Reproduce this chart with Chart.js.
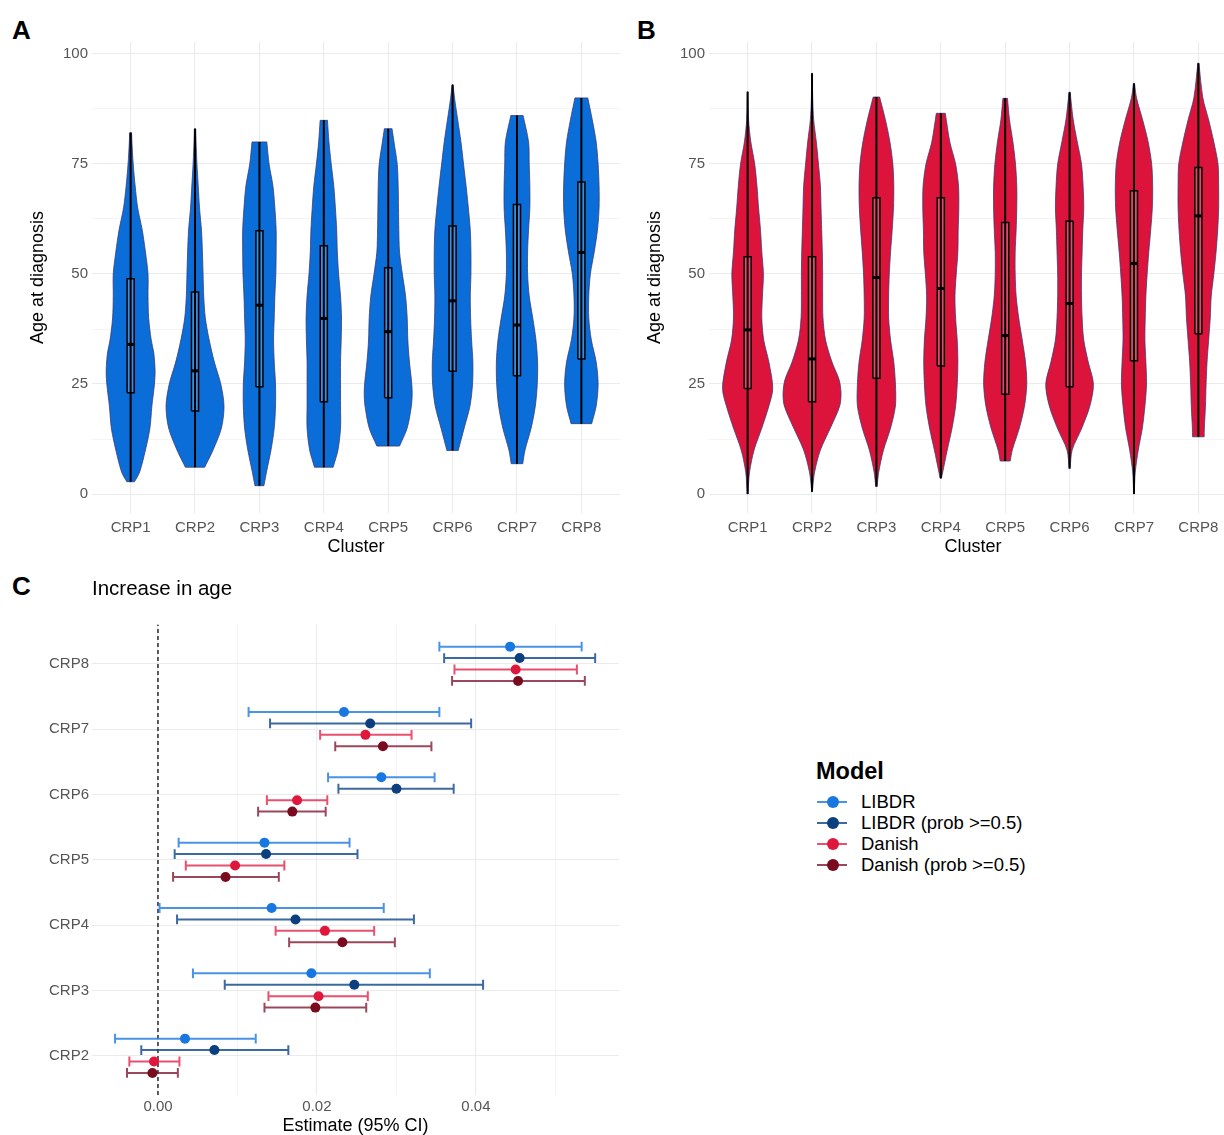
<!DOCTYPE html>
<html>
<head>
<meta charset="utf-8">
<script src="https://cdn.jsdelivr.net/npm/chart.js@4.4.0/dist/chart.umd.min.js"></script>
<style>
  html, body { margin: 0; padding: 0; background: #fff; overflow: hidden; }
  body { width: 1224px; height: 1135px; position: relative; font-family: "Liberation Sans", Arial, Helvetica, sans-serif; }
  .panel { position: absolute; }
  .tag { position: absolute; font-weight: bold; font-size: 26px; line-height: 1; color: #000; }
  #legend { position: absolute; left: 816px; top: 760px; color: #000; }
  #legend .lg-title { font-weight: bold; font-size: 23.5px; line-height: 1; height: 31px; }
  #legend .lg-row { position: relative; height: 21px; line-height: 21px; font-size: 18.5px; padding-left: 45px; white-space: nowrap; }
  #legend .lg-line { position: absolute; left: 1px; top: 10px; width: 30px; height: 2px; }
  #legend .lg-dot { position: absolute; left: 10.5px; top: 5px; width: 12px; height: 12px; border-radius: 50%; }
</style>
</head>
<body>
<div class="tag" style="left:12px;top:17px">A</div>
<div class="tag" style="left:637px;top:17px">B</div>
<div class="tag" style="left:12px;top:573px">C</div>
<div class="panel" style="left:0;top:0;width:620px;height:560px"><canvas id="chartA"></canvas></div>
<div class="panel" style="left:617px;top:0;width:620px;height:560px"><canvas id="chartB"></canvas></div>
<div class="panel" style="left:0;top:565px;width:640px;height:570px"><canvas id="chartC"></canvas></div>
<div id="legend"></div>

<script>
// ---- panels A / B : age at diagnosis per cluster ----
const clusters = ['CRP1', 'CRP2', 'CRP3', 'CRP4', 'CRP5', 'CRP6', 'CRP7', 'CRP8'];
const ageTicks = [0, 12.5, 25, 37.5, 50, 62.5, 75, 87.5, 100];

// violin half widths (fraction of a category) at given ages, [age, width]
const densA = [
  [[2.8,.06],[5,.14],[10,.23],[15,.30],[20,.33],[25,.37],[28,.38],[32,.36],[35,.32],[40,.28],[45,.27],[50,.27],[55,.23],[60,.18],[65,.11],[70,.07],[75,.04],[80,.02],[82.1,.015]],
  [[6.1,.15],[10,.28],[15,.41],[20,.45],[25,.40],[30,.30],[35,.22],[40,.16],[45,.135],[50,.125],[55,.115],[60,.10],[65,.07],[70,.05],[75,.03],[80,.016],[83,.01]],
  [[1.9,.07],[5,.11],[10,.18],[15,.23],[20,.25],[25,.25],[30,.23],[35,.22],[40,.23],[45,.24],[50,.255],[55,.26],[60,.26],[65,.24],[70,.21],[75,.15],[80,.115]],
  [[6.1,.145],[10,.22],[15,.26],[20,.26],[25,.26],[30,.26],[35,.27],[40,.275],[45,.26],[50,.23],[55,.21],[60,.20],[65,.18],[70,.155],[75,.115],[80,.08],[84.9,.057]],
  [[10.9,.176],[15,.295],[20,.36],[23,.373],[26,.36],[30,.33],[35,.305],[40,.295],[45,.27],[50,.22],[55,.176],[60,.165],[65,.16],[70,.155],[75,.14],[80,.09],[83,.06]],
  [[9.9,.088],[15,.18],[20,.27],[25,.31],[30,.315],[35,.295],[40,.28],[45,.275],[50,.285],[55,.285],[60,.275],[65,.245],[70,.21],[75,.17],[80,.13],[85,.08],[90,.03],[93,.008]],
  [[6.9,.09],[10,.125],[15,.22],[20,.285],[25,.315],[30,.32],[35,.295],[40,.245],[45,.19],[50,.165],[55,.165],[60,.18],[65,.20],[70,.20],[75,.19],[80,.18],[86,.095]],
  [[16,.16],[20,.23],[25,.26],[30,.23],[35,.155],[40,.115],[45,.115],[50,.14],[55,.20],[60,.25],[65,.275],[70,.275],[75,.26],[80,.23],[85,.17],[90,.10]]
];
const minA = [2.8, 6.1, 1.9, 6.1, 10.9, 9.9, 6.9, 16.0];
const q1A  = [23.0, 18.9, 24.4, 21.0, 21.9, 27.9, 26.9, 30.7];
const medA = [34.0, 28.0, 42.9, 39.9, 36.9, 43.9, 38.4, 54.9];
const q3A  = [48.9, 45.9, 59.8, 56.4, 51.4, 60.9, 65.8, 70.9];
const maxA = [82.1, 83.0, 80.0, 84.9, 83.0, 93.0, 86.0, 90.0];

const densB = [
  [[0,.005],[5,.03],[10,.10],[15,.22],[20,.33],[24,.39],[30,.33],[35,.25],[40,.22],[45,.23],[50,.245],[55,.22],[60,.20],[65,.17],[70,.145],[75,.11],[80,.05],[85,.015],[91.4,.004]],
  [[0.5,.004],[5,.04],[10,.13],[15,.285],[20,.43],[23,.45],[26,.42],[30,.31],[35,.21],[40,.17],[45,.165],[50,.165],[55,.16],[60,.15],[65,.14],[70,.13],[75,.10],[80,.067],[85,.026],[90,.01],[95.6,.004]],
  [[1.7,.01],[5,.036],[10,.11],[15,.22],[20,.295],[25,.295],[30,.27],[35,.22],[40,.19],[45,.19],[50,.20],[55,.22],[60,.245],[65,.265],[70,.27],[75,.255],[80,.21],[85,.14],[90.2,.05]],
  [[3.6,.01],[5,.03],[10,.10],[15,.175],[20,.23],[25,.255],[30,.265],[35,.255],[40,.23],[45,.22],[50,.24],[55,.265],[60,.27],[65,.28],[70,.275],[75,.23],[80,.14],[86.5,.07]],
  [[7.5,.078],[10,.11],[15,.22],[20,.30],[25,.335],[30,.315],[35,.265],[40,.21],[45,.17],[50,.155],[55,.155],[60,.17],[65,.18],[70,.18],[75,.16],[80,.12],[85,.067],[89.9,.036]],
  [[5.8,.008],[10,.04],[15,.19],[20,.315],[25,.37],[30,.29],[35,.22],[40,.195],[45,.185],[50,.185],[55,.195],[60,.205],[65,.22],[70,.21],[75,.185],[80,.12],[85,.057],[91.3,.008]],
  [[0,.004],[5,.02],[10,.067],[15,.13],[20,.17],[25,.195],[30,.185],[35,.17],[40,.175],[45,.185],[50,.205],[55,.23],[60,.26],[65,.285],[70,.29],[75,.275],[80,.22],[85,.135],[90,.04],[93.3,.008]],
  [[13.0,.09],[15,.093],[20,.11],[25,.12],[30,.135],[35,.16],[40,.185],[45,.20],[50,.24],[55,.275],[60,.30],[65,.315],[70,.315],[75,.305],[80,.24],[85,.16],[90,.07],[97.9,.008]]
];
const minB = [0, 0.5, 1.7, 3.6, 7.5, 5.8, 0, 13.0];
const q1B  = [24.0, 21.0, 26.3, 29.1, 22.7, 24.4, 30.3, 36.4];
const medB = [37.3, 30.7, 49.2, 46.7, 36.0, 43.3, 52.4, 63.2];
const q3B  = [53.9, 53.9, 67.3, 67.3, 61.7, 62.0, 68.9, 74.2];
const maxB = [91.4, 95.6, 90.2, 86.5, 89.9, 91.3, 93.3, 97.9];

// ---- panel C : increase in age, estimate and 95% CI ----
const clustersC = ['CRP2', 'CRP3', 'CRP4', 'CRP5', 'CRP6', 'CRP7', 'CRP8'];
const models = ['LIBDR', 'LIBDR (prob >=0.5)', 'Danish', 'Danish (prob >=0.5)'];
const estLibdr  = [0.0034, 0.0193, 0.0143, 0.0134, 0.0281, 0.0234, 0.0443];
const loLibdr   = [-0.0054, 0.0044, 0.0002, 0.0026, 0.0214, 0.0114, 0.0354];
const hiLibdr   = [0.0123, 0.0342, 0.0284, 0.0241, 0.0348, 0.0354, 0.0533];
const estLibdrP = [0.0071, 0.0247, 0.0173, 0.0136, 0.0300, 0.0267, 0.0455];
const loLibdrP  = [-0.0021, 0.0084, 0.0024, 0.0021, 0.0227, 0.0141, 0.0360];
const hiLibdrP  = [0.0164, 0.0409, 0.0322, 0.0251, 0.0372, 0.0394, 0.0550];
const estDanish = [-0.0005, 0.0202, 0.0210, 0.0097, 0.0175, 0.0261, 0.0450];
const loDanish  = [-0.0036, 0.0139, 0.0148, 0.0035, 0.0137, 0.0204, 0.0373];
const hiDanish  = [0.0027, 0.0264, 0.0272, 0.0159, 0.0213, 0.0319, 0.0527];
const estDanishP = [-0.0007, 0.0198, 0.0232, 0.0085, 0.0169, 0.0283, 0.0453];
const loDanishP  = [-0.0039, 0.0134, 0.0165, 0.0019, 0.0126, 0.0223, 0.0370];
const hiDanishP  = [0.0025, 0.0262, 0.0298, 0.0152, 0.0211, 0.0344, 0.0537];
const estTicks = [0, 0.01, 0.02, 0.03, 0.04, 0.05];

const modelPoint = ['#1877e0', '#0b3f7e', '#e0173d', '#7a0b1f'];
const modelLine  = ['rgba(40,128,225,0.85)', 'rgba(25,80,145,0.85)', 'rgba(228,50,85,0.85)', 'rgba(130,25,50,0.8)'];
const dodge = [0.2625, 0.0875, -0.0875, -0.2625];

Chart.defaults.font.family = '"Liberation Sans", Arial, Helvetica, sans-serif';
const TICK = '#555';
const GRID = '#ebebeb';
const BOX_HALF = 0.055;
const CAP = 0.075;

// repeat a point so the spline keeps a sharp corner there
function corner(p) { return [p, {x: p.x, y: p.y}]; }

function violinDatasets(dens, q1, med, q3, lo, hi, fill, boxFill) {
  const sets = [];
  dens.forEach((knots, i) => {
    const xc = i + 1;
    const left = knots.map(([a, w]) => ({x: xc - w, y: a}));
    const right = knots.map(([a, w]) => ({x: xc + w, y: a})).reverse();
    const n = left.length;
    const outline = [].concat(
      corner(left[0]), left.slice(1, n - 1), corner(left[n - 1]),
      corner(right[0]), right.slice(1, n - 1), corner(right[n - 1]),
      [{x: left[0].x, y: left[0].y}]
    );
    sets.push({data: outline, fill: 'shape', backgroundColor: fill,
      borderColor: 'rgba(55,55,115,0.75)', borderWidth: 1, tension: 0.3, order: 4});
    sets.push({data: [{x: xc - BOX_HALF, y: q1[i]}, {x: xc + BOX_HALF, y: q1[i]},
        {x: xc + BOX_HALF, y: q3[i]}, {x: xc - BOX_HALF, y: q3[i]}, {x: xc - BOX_HALF, y: q1[i]}],
      fill: 'shape', backgroundColor: boxFill, borderColor: '#000', borderWidth: 1.5, tension: 0, order: 3});
    sets.push({data: [{x: xc, y: lo[i]}, {x: xc, y: hi[i]}],
      borderColor: '#000', borderWidth: 2, fill: false, order: 2});
    sets.push({data: [{x: xc - BOX_HALF, y: med[i]}, {x: xc + BOX_HALF, y: med[i]}],
      borderColor: '#000', borderWidth: 3, fill: false, order: 1});
  });
  return sets;
}

function violinChart(id, sets) {
  return new Chart(document.getElementById(id), {
    type: 'line',
    data: {datasets: sets},
    options: {
      responsive: true,
      maintainAspectRatio: false,
      animation: false,
      events: [],
      layout: {padding: {top: 42, right: 0, bottom: 0, left: 0}},
      elements: {point: {radius: 0}},
      plugins: {legend: {display: false}, tooltip: {enabled: false}},
      scales: {
        x: {
          type: 'linear', min: 0.4, max: 8.6,
          afterBuildTicks: (s) => { s.ticks = clusters.map((c, i) => ({value: i + 1})); },
          afterFit: (s) => { s.height = 47; },
          ticks: {callback: (v, i) => clusters[i], color: TICK, font: {size: 15}, padding: 6,
                  autoSkip: false, maxRotation: 0},
          grid: {color: GRID, lineWidth: 1.1, drawTicks: false},
          border: {display: false},
          title: {display: true, text: 'Cluster', color: '#000', font: {size: 18, lineHeight: 1},
                  padding: {top: 0, bottom: 4}}
        },
        y: {
          type: 'linear', min: -4.3, max: 102.7,
          afterBuildTicks: (s) => { s.ticks = ageTicks.map((v) => ({value: v})); },
          afterFit: (s) => { s.width = 92; },
          ticks: {callback: (v) => (v % 25 === 0 ? String(v) : ''), color: TICK,
                  font: {size: 15}, padding: 4},
          grid: {color: GRID, drawTicks: false,
                 lineWidth: (c) => (c.tick && c.tick.value % 25 === 0 ? 1.1 : 0.55)},
          border: {display: false},
          title: {display: true, text: 'Age at diagnosis', color: '#000', font: {size: 18},
                  padding: {top: 27, bottom: 0}}
        }
      }
    }
  });
}

violinChart('chartA', violinDatasets(densA, q1A, medA, q3A, minA, maxA, '#0a6dd8', '#3b8fe3'));
violinChart('chartB', violinDatasets(densB, q1B, medB, q3B, minB, maxB, '#dc143c', '#e4496a'));

// ---- panel C ----
const estimates = [
  [estLibdr, loLibdr, hiLibdr],
  [estLibdrP, loLibdrP, hiLibdrP],
  [estDanish, loDanish, hiDanish],
  [estDanishP, loDanishP, hiDanishP]
];

function errorbarPoints(lo, hi, off) {
  const pts = [];
  lo.forEach((l, k) => {
    const y = k + 1 + off;
    pts.push({x: l, y: y - CAP}, {x: l, y: y + CAP}, {x: null, y: null},
             {x: l, y: y}, {x: hi[k], y: y}, {x: null, y: null},
             {x: hi[k], y: y - CAP}, {x: hi[k], y: y + CAP}, {x: null, y: null});
  });
  return pts;
}

const yMinC = 0.4, yMaxC = 7.6;
const setsC = [{
  data: [{x: 0, y: yMinC}, {x: 0, y: yMaxC}],
  borderColor: '#333', borderWidth: 1.6, borderDash: [4, 3], fill: false, order: 3
}];
estimates.forEach(([est, lo, hi], m) => {
  setsC.push({data: errorbarPoints(lo, hi, dodge[m]), borderColor: modelLine[m],
    borderWidth: 2, fill: false, spanGaps: false, order: 2});
});
estimates.forEach(([est, lo, hi], m) => {
  setsC.push({data: est.map((e, k) => ({x: e, y: k + 1 + dodge[m]})), showLine: false,
    pointRadius: 5, pointBackgroundColor: modelPoint[m], pointBorderWidth: 0, order: 1});
});

new Chart(document.getElementById('chartC'), {
  type: 'line',
  data: {datasets: setsC},
  options: {
    responsive: true,
    maintainAspectRatio: false,
    animation: false,
    events: [],
    layout: {padding: {top: 0, right: 21, bottom: 0, left: 0}},
    elements: {point: {radius: 0}},
    plugins: {
      legend: {display: false},
      tooltip: {enabled: false},
      title: {display: true, text: 'Increase in age', align: 'start', fullSize: false,
              color: '#000', font: {size: 20.5, weight: 'normal'}, padding: {top: 12, bottom: 23}}
    },
    scales: {
      x: {
        type: 'linear', min: -0.0083, max: 0.058,
        afterBuildTicks: (s) => { s.ticks = estTicks.map((v) => ({value: v})); },
        afterFit: (s) => { s.height = 40; },
        ticks: {callback: (v, i) => (i % 2 === 0 ? estTicks[i].toFixed(2) : ''), color: TICK,
                font: {size: 15}, padding: 3, autoSkip: false, maxRotation: 0},
        grid: {color: GRID, drawTicks: false, lineWidth: (c) => (c.index % 2 === 0 ? 1.1 : 0.55)},
        border: {display: false},
        title: {display: true, text: 'Estimate (95% CI)', color: '#000', font: {size: 18, lineHeight: 1},
                padding: {top: 0, bottom: 0}}
      },
      y: {
        type: 'linear', min: yMinC, max: yMaxC,
        afterBuildTicks: (s) => { s.ticks = clustersC.map((c, i) => ({value: i + 1})); },
        afterFit: (s) => { s.width = 92; },
        ticks: {callback: (v, i) => clustersC[i], color: TICK, font: {size: 15}, padding: 3},
        grid: {color: GRID, lineWidth: 1.1, drawTicks: false},
        border: {display: false}
      }
    }
  }
});

// legend for panel C
const legend = document.getElementById('legend');
legend.innerHTML = '<div class="lg-title">Model</div>' + models.map((name, m) =>
  '<div class="lg-row"><span class="lg-line" style="background:' + modelLine[m] + '"></span>' +
  '<span class="lg-dot" style="background:' + modelPoint[m] + '"></span>' + name + '</div>'
).join('');
</script>
</body>
</html>
